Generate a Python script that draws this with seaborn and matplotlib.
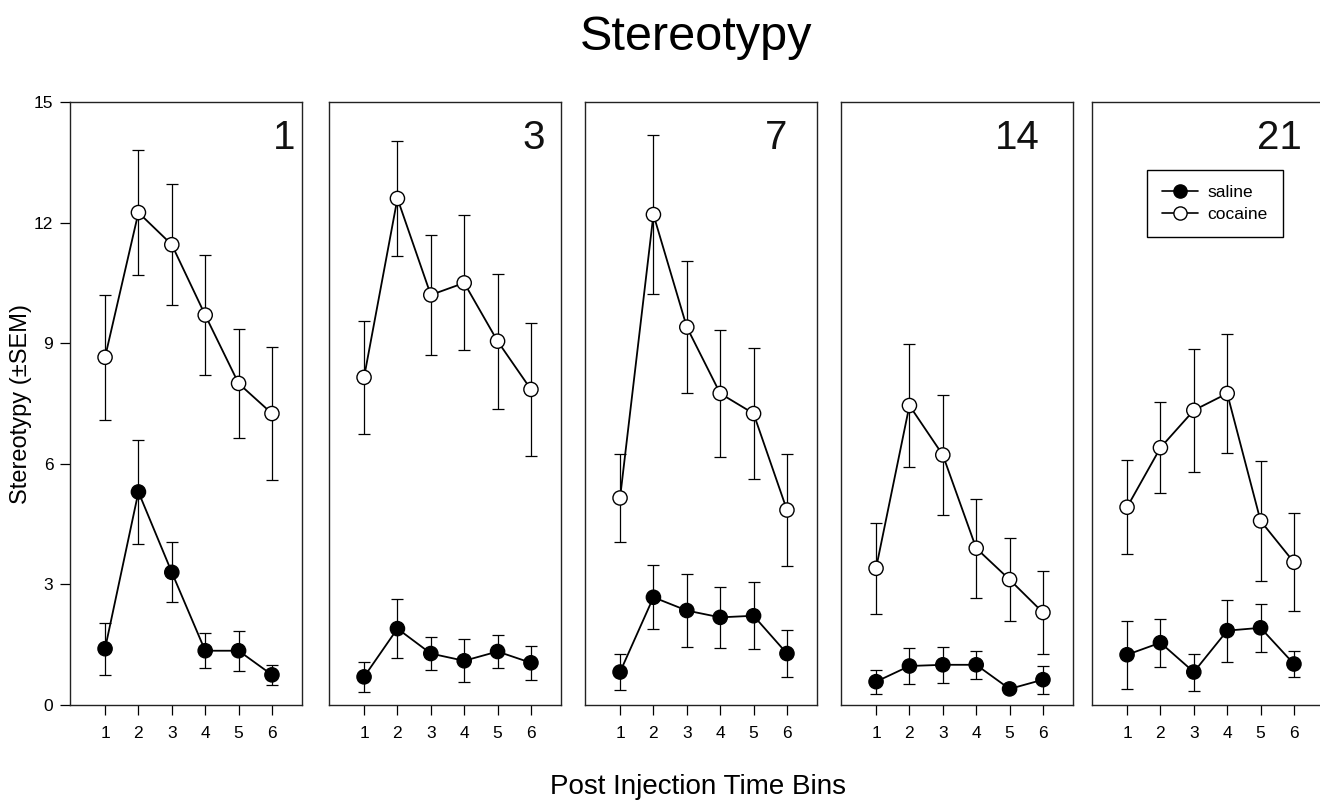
import matplotlib
matplotlib.use("Agg")
import matplotlib.pyplot as plt
from matplotlib.lines import Line2D
import seaborn as sns
import pandas as pd

# days after withdrawal (one panel each)
days = ["1", "3", "7", "14", "21"]
bins = [1, 2, 3, 4, 5, 6]

cocaine_mean = [
    [8.65, 12.25, 11.45, 9.70, 8.00, 7.25],
    [8.15, 12.60, 10.20, 10.50, 9.05, 7.85],
    [5.15, 12.20, 9.40, 7.75, 7.25, 4.85],
    [3.40, 7.45, 6.22, 3.90, 3.12, 2.30],
    [4.92, 6.40, 7.33, 7.75, 4.58, 3.55],
]
cocaine_sem = [
    [1.55, 1.55, 1.50, 1.50, 1.35, 1.65],
    [1.40, 1.43, 1.50, 1.68, 1.68, 1.65],
    [1.10, 1.97, 1.65, 1.58, 1.62, 1.40],
    [1.13, 1.53, 1.50, 1.23, 1.03, 1.03],
    [1.17, 1.13, 1.53, 1.47, 1.50, 1.22],
]
saline_mean = [
    [1.40, 5.30, 3.30, 1.35, 1.35, 0.75],
    [0.70, 1.90, 1.28, 1.10, 1.33, 1.05],
    [0.82, 2.68, 2.35, 2.18, 2.22, 1.28],
    [0.58, 0.97, 1.00, 1.00, 0.40, 0.63],
    [1.25, 1.55, 0.82, 1.85, 1.92, 1.02],
]
saline_sem = [
    [0.65, 1.30, 0.75, 0.43, 0.50, 0.25],
    [0.38, 0.74, 0.42, 0.53, 0.40, 0.42],
    [0.45, 0.80, 0.90, 0.75, 0.83, 0.58],
    [0.30, 0.45, 0.45, 0.35, 0.05, 0.35],
    [0.84, 0.60, 0.46, 0.77, 0.60, 0.33],
]

sns.set_style("ticks")
plt.rcParams["font.family"] = ["Liberation Sans", "DejaVu Sans"]
plt.rcParams["text.color"] = "black"
plt.rcParams["axes.labelcolor"] = "black"
plt.rcParams["xtick.color"] = "black"
plt.rcParams["ytick.color"] = "black"

fig = plt.figure(figsize=(13.2, 8.0), dpi=100)

W, H = 1320, 800
lefts = [70, 329, 585, 841, 1092]
num_x = [0.970, 0.931, 0.871, 0.858, 0.905]  # where the day number sits
bottom, top = 705, 102

for i, day in enumerate(days):
    ax = fig.add_axes([lefts[i] / W, 1 - bottom / H, 232 / W, (bottom - top) / H])

    df = pd.DataFrame({
        "bin": bins * 2,
        "value": saline_mean[i] + cocaine_mean[i],
        "sem": saline_sem[i] + cocaine_sem[i],
        "group": ["saline"] * 6 + ["cocaine"] * 6,
    })

    for g in ["saline", "cocaine"]:
        d = df[df["group"] == g]
        ax.errorbar(d["bin"], d["value"], yerr=d["sem"], fmt="none",
                    ecolor="black", elinewidth=0.9, capsize=4.3, capthick=0.9, zorder=1)

    sns.lineplot(data=df, x="bin", y="value", hue="group",
                 palette={"saline": "black", "cocaine": "black"},
                 linewidth=1.3, legend=False, ax=ax, zorder=2)
    sns.scatterplot(data=df, x="bin", y="value", hue="group",
                    palette={"saline": "black", "cocaine": "white"},
                    s=105, edgecolor="black", linewidth=1.0,
                    legend=False, ax=ax, zorder=3)

    ax.set_xlim(-0.05, 6.9)
    ax.set_ylim(0, 15)
    ax.set_xticks(bins)
    ax.set_xlabel("")
    ax.set_ylabel("")
    ax.tick_params(axis="x", direction="out", length=7, width=0.9, labelsize=12.5, pad=8)
    for sp in ax.spines.values():
        sp.set_visible(True)
        sp.set_linewidth(1.0)
        sp.set_color("#222222")

    if i == 0:
        ax.set_yticks([0, 3, 6, 9, 12, 15])
        ax.tick_params(axis="y", direction="out", length=7, width=0.9, labelsize=12.5, pad=5)
        ax.set_ylabel("Stereotypy (\u00b1SEM)", fontsize=17, labelpad=1)
    else:
        ax.set_yticks([])

    ax.text(num_x[i], 0.972, day, transform=ax.transAxes, ha="right", va="top",
            fontsize=29, color="#111111")

    if i == 4:
        handles = [
            Line2D([], [], color="black", lw=1.2, marker="o", markersize=9.5,
                   markerfacecolor="black", markeredgecolor="black"),
            Line2D([], [], color="black", lw=1.2, marker="o", markersize=9.5,
                   markerfacecolor="white", markeredgecolor="black"),
        ]
        leg = ax.legend(handles, ["saline", "cocaine"], loc="upper left",
                        bbox_to_anchor=(0.237, 0.887), borderaxespad=0,
                        fontsize=12.5, handlelength=2.1, handletextpad=0.55,
                        labelspacing=0.4, borderpad=0.85, fancybox=False,
                        framealpha=1, edgecolor="black")
        leg.get_frame().set_linewidth(1.0)

fig.text(0.527, 1 - 38 / H, "Stereotypy", ha="center", va="center", fontsize=35)
fig.text(0.529, 1 - 787 / H, "Post Injection Time Bins", ha="center", va="center", fontsize=20)

fig.savefig("out.png", dpi=100)
